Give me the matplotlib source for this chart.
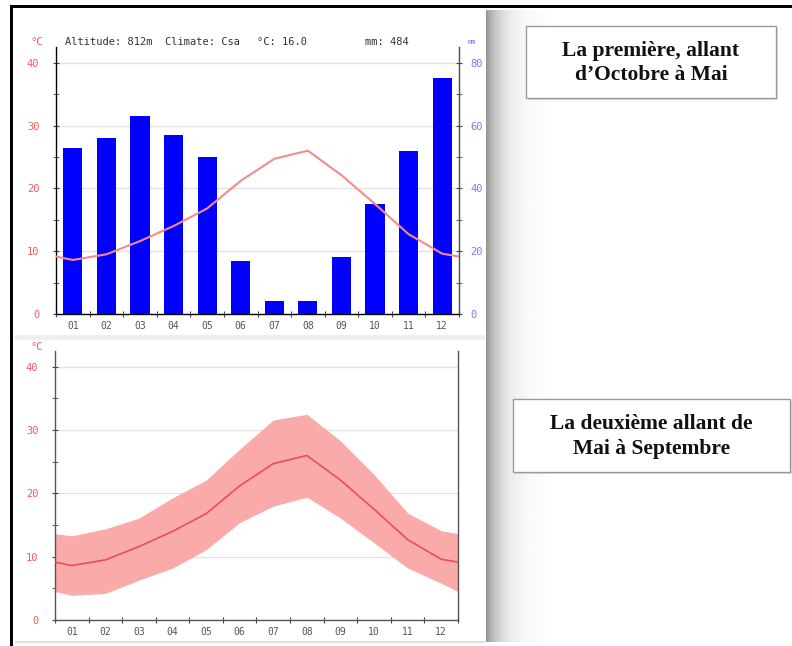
import matplotlib.pyplot as plt
import numpy as np
from matplotlib.patches import Rectangle

months = ["01", "02", "03", "04", "05", "06", "07", "08", "09", "10", "11", "12"]
precip_mm = [53, 56, 63, 57, 50, 17, 4, 4, 18, 35, 52, 75]
temp_mean = [8.6, 9.5, 11.6, 14.0, 16.8, 21.2, 24.7, 26.0, 22.1, 17.5, 12.7, 9.6]
temp_max = [13.3, 14.4, 16.1, 19.3, 22.1, 27.0, 31.6, 32.5, 28.3, 23.0, 16.9, 14.1]
temp_min = [3.9, 4.2, 6.3, 8.2, 11.1, 15.4, 18.0, 19.4, 16.1, 12.2, 8.2, 5.8]
# values where the curves meet the left / right border of the plot
edge_mean = 9.15
edge_max = 13.65
edge_min = 4.5

header = [("Altitude: 812m", 65), ("Climate: Csa", 165), ("°C: 16.0", 257), ("mm: 484", 365)]
box_texts = ["La première, allant\nd’Octobre à Mai", "La deuxième allant de\nMai à Septembre"]

W, H = 792, 646
RED = "#f25c5c"
BLUE = "#6e7cff"
MONO = "DejaVu Sans Mono"


def fx(px):
    return px / W


def fy(py):
    return 1 - py / H


fig = plt.figure(figsize=(W / 100, H / 100), dpi=100)
fig.patch.set_facecolor("white")

# drop shadow to the right of the screenshot panel
sh = fig.add_axes([fx(486), fy(642), fx(60), (642 - 10) / H])
grad = 1 - 0.42 * np.exp(-np.linspace(0, 4, 200))
sh.imshow(grad[np.newaxis, :], aspect="auto", cmap="gray", vmin=0, vmax=1, extent=(0, 1, 0, 1))
sh.axis("off")

# separator strip between the two charts
fig.patches.append(Rectangle((fx(15), fy(340)), fx(470), 5 / H, transform=fig.transFigure,
                             facecolor="#efefef", edgecolor="none"))
fig.patches.append(Rectangle((fx(15), fy(643)), fx(470), 2 / H, transform=fig.transFigure,
                             facecolor="#e6ddd5", edgecolor="none"))

x = np.arange(1, 13)
x_line = np.concatenate([[0.5], x, [12.5]])


def style_axis(ax):
    ax.set_xlim(0.5, 12.5)
    ax.set_ylim(0, 42.5)
    ax.set_xticks(np.arange(0.5, 13, 1))
    ax.set_xticklabels([])
    ax.set_xticks(x, minor=True)
    ax.set_xticklabels(months, minor=True, fontsize=7, family=MONO, color="#555555")
    ax.tick_params(axis="x", which="major", direction="inout", length=4, color="#444444")
    ax.tick_params(axis="x", which="minor", length=0, pad=5)
    ax.set_yticks([0, 10, 20, 30, 40])
    ax.set_yticks([5, 15, 25, 35], minor=True)
    ax.tick_params(axis="y", which="both", direction="inout", length=4, color="#444444",
                   labelcolor=RED, labelsize=7.5, pad=10)
    for lab in ax.get_yticklabels():
        lab.set_family(MONO)
    ax.grid(axis="y", color="#e4e4e4", linewidth=1)
    ax.set_axisbelow(True)
    ax.spines["top"].set_visible(False)
    for s in ["left", "right", "bottom"]:
        ax.spines[s].set_color("#555555")
        ax.spines[s].set_linewidth(1)


# top chart: precipitation bars and mean temperature
ax1 = fig.add_axes([fx(56), fy(314), fx(459 - 56), (314 - 47) / H])
style_axis(ax1)
ax2 = ax1.twinx()
ax2.bar(x, precip_mm, width=0.57, color="#0000ff", zorder=2)
ax2.set_ylim(0, 85)
ax2.set_yticks([0, 20, 40, 60, 80])
ax2.set_yticks([10, 30, 50, 70], minor=True)
ax2.tick_params(axis="y", which="both", direction="inout", length=4, color="#444444",
                labelcolor=BLUE, labelsize=7.5, pad=6)
for lab in ax2.get_yticklabels():
    lab.set_family(MONO)
ax2.spines["top"].set_visible(False)
ax2.spines["right"].set_color("#555555")
ax2.plot(x_line, 2 * np.concatenate([[edge_mean], temp_mean, [edge_mean]]),
         color="#f58a8a", linewidth=1.5, zorder=3)

fig.text(fx(31), fy(42), "°C", color=RED, fontsize=7.5, family=MONO, va="center")
fig.text(fx(468), fy(42), "mm", color=BLUE, fontsize=5, family=MONO, va="center")
for txt, px in header:
    fig.text(fx(px), fy(42), txt, fontsize=7.5, family=MONO, color="#333333", va="center")

# bottom chart: temperature range
ax3 = fig.add_axes([fx(55), fy(620), fx(458 - 55), (620 - 351) / H])
style_axis(ax3)
ax3.tick_params(axis="y", which="both", right=False)
ax3.fill_between(x_line, np.concatenate([[edge_min], temp_min, [edge_min]]),
                 np.concatenate([[edge_max], temp_max, [edge_max]]),
                 color="#fbaaaa", linewidth=0, zorder=2)
ax3.plot(x_line, np.concatenate([[edge_mean], temp_mean, [edge_mean]]),
         color="#e85050", linewidth=1.2, zorder=3)
fig.text(fx(31), fy(347), "°C", color=RED, fontsize=7.5, family=MONO, va="center")

# annotation boxes
boxes = [(526, 26, 776, 98), (513, 399, 790, 472)]
for (x0, y0, x1, y1), txt in zip(boxes, box_texts):
    fig.patches.append(Rectangle((fx(x0 + 2), fy(y1 + 2)), fx(x1 - x0), (y1 - y0) / H,
                                 transform=fig.transFigure, facecolor="#dddddd", edgecolor="none"))
    fig.patches.append(Rectangle((fx(x0), fy(y1)), fx(x1 - x0), (y1 - y0) / H,
                                 transform=fig.transFigure, facecolor="white",
                                 edgecolor="#9a9a9a", linewidth=1))
    fig.text(fx((x0 + x1) / 2), fy((y0 + y1) / 2 + 1), txt, ha="center", va="center",
             family="Liberation Serif", fontweight="bold", fontsize=15.5, linespacing=1.3,
             color="#111111")

# black frame of the screenshot
fig.patches.append(Rectangle((fx(10), fy(8)), fx(W - 10), 3 / H, transform=fig.transFigure,
                             facecolor="black", edgecolor="none"))
fig.patches.append(Rectangle((fx(10), 0), fx(3), fy(5), transform=fig.transFigure,
                             facecolor="black", edgecolor="none"))

fig.savefig("out.png", dpi=100)
